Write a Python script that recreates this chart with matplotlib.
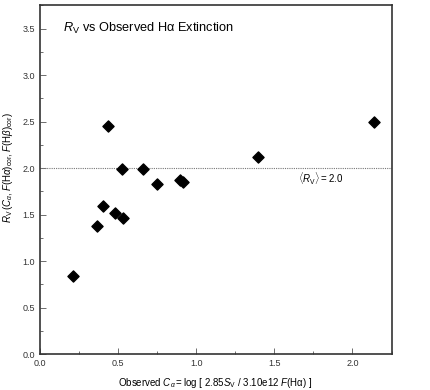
import matplotlib
matplotlib.use("Agg")
import matplotlib.pyplot as plt
from matplotlib.ticker import MultipleLocator

plt.rcParams["font.family"] = ["Liberation Sans", "DejaVu Sans"]
plt.rcParams["mathtext.fontset"] = "custom"
plt.rcParams["mathtext.rm"] = "Liberation Sans"
plt.rcParams["mathtext.it"] = "Liberation Sans:italic"
plt.rcParams["mathtext.bf"] = "Liberation Sans:bold"

# --- data ---
c_alpha = [0.21, 0.365, 0.405, 0.48, 0.534, 0.752, 0.897, 0.915,
           0.434, 0.528, 0.662, 1.395, 2.14]
r_v = [0.84, 1.38, 1.59, 1.52, 1.46, 1.83, 1.87, 1.85,
       2.45, 1.99, 1.99, 2.12, 2.50]
mean_rv = 2.0

fig = plt.figure(figsize=(4.31, 3.90), dpi=100)
ax = fig.add_axes([0.0928, 0.0923, 0.8156, 0.8941])

ax.scatter(c_alpha, r_v, marker="D", s=32, color="black", zorder=3)
ax.axhline(mean_rv, color="#777777", linestyle=(0, (1, 1)), linewidth=0.8)

ax.set_xlim(0, 2.25)
ax.set_ylim(0, 3.75)
ax.xaxis.set_major_locator(MultipleLocator(0.5))
ax.xaxis.set_minor_locator(MultipleLocator(0.25))
ax.yaxis.set_major_locator(MultipleLocator(0.5))
ax.yaxis.set_minor_locator(MultipleLocator(0.25))
ax.xaxis.set_major_formatter(lambda v, p: f"{v:.1f}")
ax.yaxis.set_major_formatter(lambda v, p: f"{v:.1f}")

ax.tick_params(which="both", direction="in", color="#555555",
               labelsize=6.5, labelcolor="#333333", top=False, right=False)
ax.tick_params(which="major", length=4, width=0.6)
ax.tick_params(which="minor", length=2, width=0.6)
for sp in ax.spines.values():
    sp.set_color("#333333")
    sp.set_linewidth(1.2)

ax.text(0.15, 3.5, r"$R_{\rm V}$ vs Observed Hα Extinction",
        fontsize=9.2, va="center", ha="left")
ax.text(1.65, 1.88, r"$\langle R_{\rm V}\rangle = 2.0$",
        fontsize=7, va="center", ha="left")

ax.set_xlabel(r"Observed $C_\alpha = $log [ 2.85$S_{\rm V}$ / 3.10e12 $F$(Hα) ]",
              fontsize=7, labelpad=6)
ax.set_ylabel(r"$R_{\rm V}\,(C_\alpha, F({\rm H}\alpha)_{\rm cor}, F({\rm H}\beta)_{\rm cor})$",
              fontsize=7)
ax.yaxis.set_label_coords(-0.07, 0.536)

fig.savefig("out.png", dpi=100)
